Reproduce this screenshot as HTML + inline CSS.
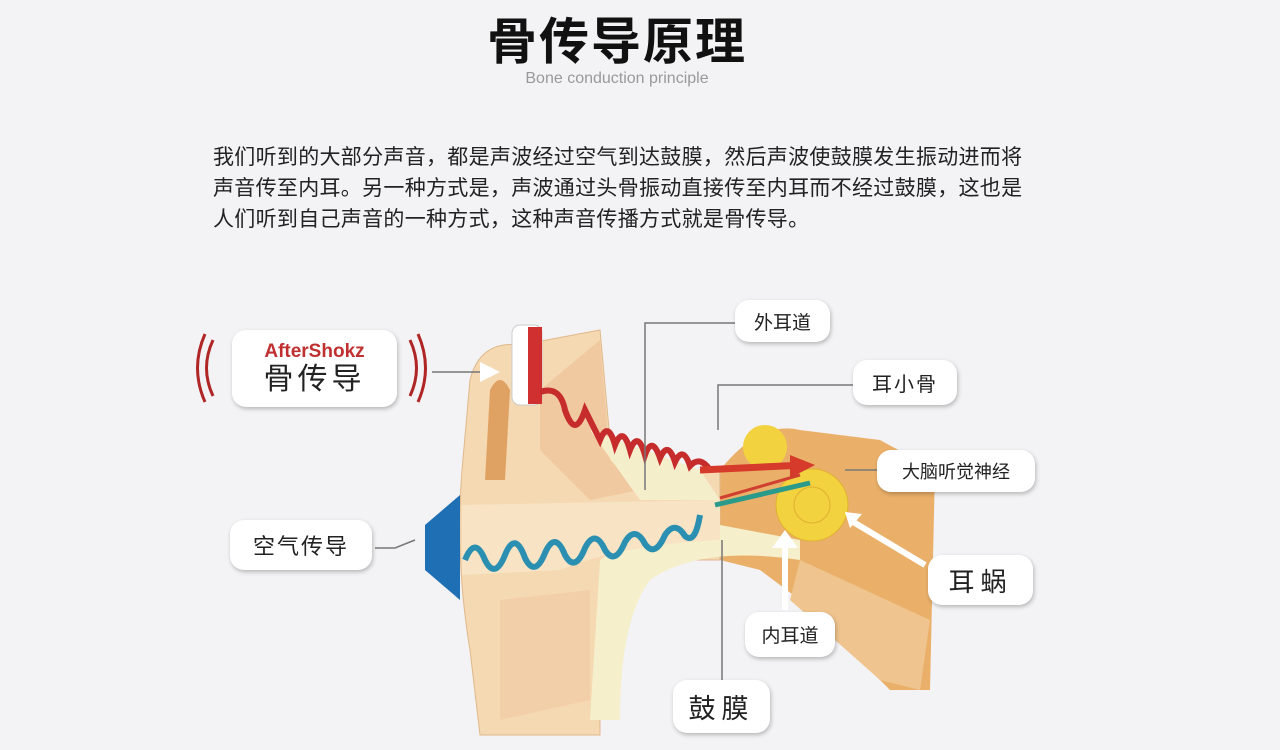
<!DOCTYPE html>
<html><head><meta charset="utf-8"><style>
body{margin:0;width:1280px;height:750px;background:#f3f3f5;overflow:hidden;font-family:"Liberation Sans","Noto Sans CJK SC",sans-serif;position:relative}
.t{position:absolute;left:0;width:1234px;text-align:center;top:2px;font-size:50px;font-weight:bold;color:#111;letter-spacing:2px}
.s{position:absolute;left:0;width:1234px;text-align:center;top:70px;font-size:16px;color:#999}
.p{position:absolute;left:213px;top:142px;font-size:21px;letter-spacing:0.3px;line-height:31px;color:#222;width:880px}
.pill{position:absolute;background:#fff;border-radius:14px;box-shadow:1px 2px 4px rgba(0,0,0,.25);display:flex;align-items:center;justify-content:center;color:#222;flex-direction:column}
</style></head><body>
<div class="t">骨传导原理</div>
<div class="s">Bone conduction principle</div>
<div class="p">我们听到的大部分声音，都是声波经过空气到达鼓膜，然后声波使鼓膜发生振动进而将<br>声音传至内耳。另一种方式是，声波通过头骨振动直接传至内耳而不经过鼓膜，这也是<br>人们听到自己声音的一种方式，这种声音传播方式就是骨传导。</div>
<svg width="1280" height="750" style="position:absolute;left:0;top:0">
<path d="M720 470 Q760 420 800 430 L880 440 L935 470 L930 690 L890 690 L840 640 L800 600 L760 570 L720 560 Z" fill="#eab06a"/>
<path d="M800 560 L930 620 L920 690 L880 680 L790 600 Z" fill="#f0c48e"/>
<path d="M470 380 Q480 340 520 345 L600 330 L610 440 L640 470 L720 470 L720 560 L640 560 Q600 580 600 650 L600 735 L480 735 L470 650 Q455 560 462 470 Z" fill="#f5d9b3" stroke="#e0b88a"/>
<path d="M490 390 Q500 370 510 390 L505 480 L485 480 Z" fill="#e0a262"/>
<path d="M540 390 L600 340 L610 460 L640 490 L590 500 L540 450 Z" fill="#f0c9a0"/>
<path d="M590 430 L700 470 L720 500 L640 500 Z" fill="#f5eecb"/>
<path d="M600 560 Q640 530 720 525 L800 540 L800 560 Q700 545 650 580 Q620 620 620 720 L590 720 Z" fill="#f6efcb"/>
<path d="M500 600 L590 590 L590 700 L500 720 Z" fill="#f2cfa8"/>
<path d="M462 505 L720 500 L720 540 Q620 545 560 570 L462 575 Z" fill="#f8e4c4"/>
<circle cx="765" cy="447" r="22" fill="#f3d240"/>
<circle cx="812" cy="505" r="36" fill="#f3d240" stroke="#e0b030"/>
<circle cx="812" cy="505" r="18" fill="none" stroke="#e0b030"/>
<rect x="512" y="325" width="30" height="80" rx="8" fill="#fff" stroke="#ccc"/>
<rect x="528" y="327" width="14" height="77" fill="#d03030"/>
<polygon points="425,525 460,495 460,600 425,570" fill="#1f6fb5"/>
<path d="M540 392 Q560 385 565 410 Q575 440 585 410 Q595 430 600 440 Q608 420 615 445 Q623 425 630 450 Q638 430 645 455 Q652 435 660 458 Q668 440 675 462 Q683 445 690 466 Q700 455 710 470" fill="none" stroke="#c62c2c" stroke-width="6"/>
<path d="M700 470 L805 465" stroke="#d63a2a" stroke-width="7"/>
<polygon points="790,455 815,465 790,478" fill="#d63a2a"/>
<path d="M465 560 Q475 535 485 560 Q495 580 505 555 Q515 530 525 558 Q535 578 545 553 Q555 530 565 555 Q575 573 585 548 Q595 528 605 550 Q615 566 625 542 Q635 525 645 544 Q655 558 665 535 Q675 520 685 536 Q695 545 700 515" fill="none" stroke="#2a8fb0" stroke-width="6"/>
<path d="M715 505 L810 483" stroke="#2a9a8a" stroke-width="5"/>
<path d="M720 498 L800 475" stroke="#d04030" stroke-width="3"/>
<g stroke="#777" stroke-width="1.5" fill="none">
<path d="M735 323 L645 323 L645 490"/>
<path d="M853 385 L718 385 L718 430"/>
<path d="M877 470 L845 470"/>
<path d="M722 540 L722 680"/>
<path d="M375 548 L395 548 L415 540"/>
<path d="M432 372 L495 372"/>
</g>
<g fill="#fff" stroke="#fff" stroke-width="6">
<path d="M785 610 L785 540"/><path d="M925 565 L850 520"/>
</g>
<polygon points="772,548 785,530 798,548" fill="#fff"/>
<polygon points="845,512 862,514 850,528" fill="#fff"/>
<polygon points="480,362 500,372 480,382" fill="#fff"/>
<g fill="none" stroke="#b02525" stroke-width="3">
<path d="M213 340 Q200 368 213 396"/><path d="M205 334 Q190 368 205 402"/>
<path d="M410 340 Q423 368 410 396"/><path d="M418 334 Q433 368 418 402"/>
</g>
</svg>
<div class="pill" style="left:232px;top:330px;width:165px;height:77px"><div style="color:#c03030;font-weight:bold;font-size:19px">AfterShokz</div><div style="font-size:30px;letter-spacing:4px;line-height:34px">骨传导</div></div>
<div class="pill" style="left:230px;top:520px;width:142px;height:50px;font-size:22px;letter-spacing:2px">空气传导</div>
<div class="pill" style="left:735px;top:300px;width:95px;height:42px;font-size:19px">外耳道</div>
<div class="pill" style="left:853px;top:360px;width:104px;height:45px;font-size:20px;letter-spacing:2px">耳小骨</div>
<div class="pill" style="left:877px;top:450px;width:158px;height:42px;font-size:18px">大脑听觉神经</div>
<div class="pill" style="left:928px;top:555px;width:105px;height:50px;font-size:26px;letter-spacing:6px">耳蜗</div>
<div class="pill" style="left:745px;top:612px;width:90px;height:45px;font-size:19px">内耳道</div>
<div class="pill" style="left:673px;top:680px;width:97px;height:53px;font-size:27px;letter-spacing:6px">鼓膜</div>
</body></html>
